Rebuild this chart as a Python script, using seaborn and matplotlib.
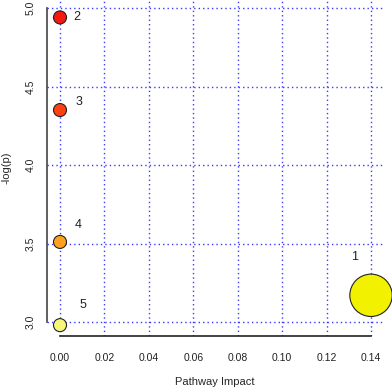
import matplotlib
matplotlib.use("Agg")
import matplotlib.pyplot as plt
import seaborn as sns
import pandas as pd

# pathway data
labels = ["1", "2", "3", "4", "5"]
impact = [0.14, 0.0, 0.0, 0.0, 0.0]
log_p = [3.17, 4.94, 4.35, 3.51, 2.98]
colors = ["#F2F200", "#F41A10", "#FF4010", "#FFA01E", "#F6F67A"]
x_ticks = [0.00, 0.02, 0.04, 0.06, 0.08, 0.10, 0.12, 0.14]
y_ticks = [3.0, 3.5, 4.0, 4.5, 5.0]
# label offsets in pixels (dx, dy) from each point
label_dx = [-16, 17, 19, 18, 23]
label_dy = [38, 0, 8, 17, 20]

df = pd.DataFrame({"impact": impact, "logp": log_p, "label": labels})

sns.set_style("white")
plt.rcParams["font.family"] = ["Liberation Sans", "DejaVu Sans"]

fig = plt.figure(figsize=(3.92, 3.90), dpi=100)
ax = fig.add_axes([47 / 392, 54 / 390, (383 - 47) / 392, 336 / 390])

# grid
for xt in x_ticks:
    ax.axvline(xt, color="#3a3aff", linestyle=(0, (1, 2.2)), linewidth=1.0, zorder=0)
for yt in y_ticks:
    ax.axhline(yt, color="#3a3aff", linestyle=(0, (1, 2.2)), linewidth=1.0, zorder=0)

sns.scatterplot(data=df, x="impact", y="logp", hue="label", palette=colors,
                size="impact", sizes=(88, 930), edgecolor="#222222",
                linewidth=0.8, legend=False, ax=ax, zorder=3, clip_on=False)

for i, lab in enumerate(labels):
    ax.annotate(lab, (impact[i], log_p[i]),
                xytext=(label_dx[i] * 0.72, label_dy[i] * 0.72),
                textcoords="offset points", ha="center", va="center",
                fontsize=9, color="#222222")

px_x = 311 / 0.14
px_y = 314 / 2.0
ax.set_xlim(-13 / px_x, 0.14 + 12 / px_x)
ax.set_ylim(3.0 - 14 / px_y, 5.0 + 8 / px_y)

ax.set_xticks(x_ticks)
ax.set_xticklabels([f"{v:.2f}" for v in x_ticks])
ax.set_yticks(y_ticks)
ax.set_yticklabels([f"{v:.1f}" for v in y_ticks], rotation=90, va="center")
ax.tick_params(axis="both", direction="out", length=4.5, width=1, labelsize=7.5,
               colors="#222222", pad=8)
ax.tick_params(axis="y", pad=3.5)

for s in ["top", "right"]:
    ax.spines[s].set_visible(False)
ax.spines["left"].set_bounds(3.0, 5.0)
ax.spines["bottom"].set_bounds(0.0, 0.14)
ax.spines["left"].set_color("#444444")
ax.spines["bottom"].set_color("#222222")
ax.spines["left"].set_linewidth(1.2)
ax.spines["bottom"].set_linewidth(1.2)

ax.set_xlabel("Pathway Impact", fontsize=8, labelpad=10)
ax.set_ylabel("-log(p)", fontsize=8, labelpad=10)

fig.savefig("out.png", dpi=100)
